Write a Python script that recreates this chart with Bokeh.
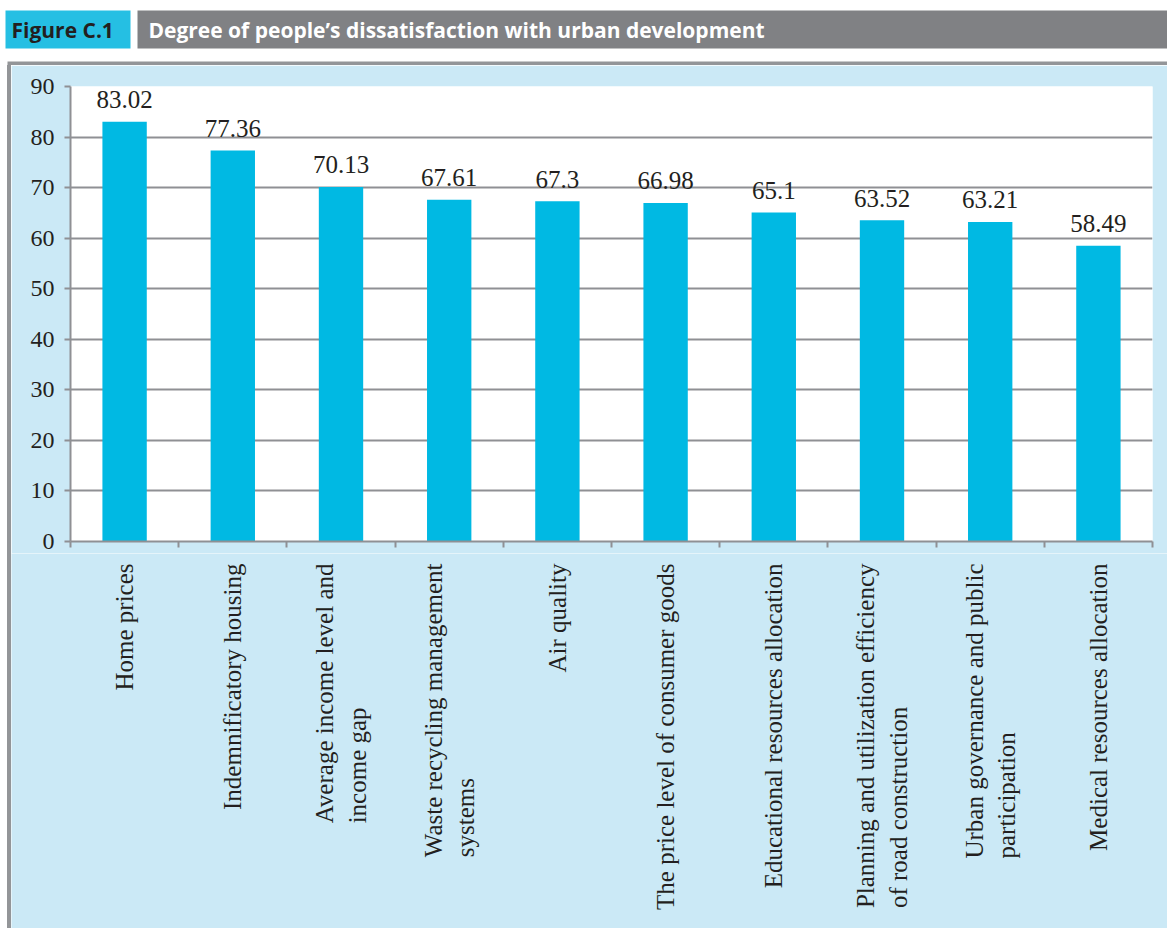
import math
from bokeh.plotting import figure
from bokeh.models import Range1d, LinearAxis, FixedTicker, ColumnDataSource
from bokeh.layouts import column
from bokeh.embed import file_html
from bokeh.resources import INLINE
from bokeh.core.properties import value

# ---------------- data ----------------
categories = [
    "Home prices",
    "Indemnificatory housing",
    "Average income level and\nincome gap",
    "Waste recycling management\nsystems",
    "Air quality",
    "The price level of consumer goods",
    "Educational resources allocation",
    "Planning and utilization efficiency\nof road construction",
    "Urban governance and public\nparticipation",
    "Medical resources allocation",
]
values = [83.02, 77.36, 70.13, 67.61, 67.3, 66.98, 65.1, 63.52, 63.21, 58.49]
value_labels = ["83.02", "77.36", "70.13", "67.61", "67.3", "66.98", "65.1",
                "63.52", "63.21", "58.49"]
y_ticks = [0, 10, 20, 30, 40, 50, 60, 70, 80, 90]
figure_tag = "Figure C.1"
title_text = "Degree of people\u2019s dissatisfaction with urban development"

# ---------------- style ----------------
PAGE_W, PAGE_H = 1167, 928
PANEL = "#CBE9F6"
BAR = "#00B9E3"
GRID = "#8F9094"
EDGE = "#939598"
TXT = "#231F20"
SERIF = "Liberation Serif"
n = len(categories)

PANEL_X = 11           # panel content starts after a 4px grey left edge at x=7
HEAD_H = 65
FL, FT, FR, FB = 70, 86, 1152, 541      # plot frame in page pixels
AX_H = 12                                # separator-tick axis height
BODY_W = PAGE_W - PANEL_X


def no_align(fig):
    if "frame_align" in fig.properties():
        fig.frame_align = False


# ---------------- header ----------------
head = figure(width=PAGE_W, height=HEAD_H, x_range=Range1d(0, PAGE_W),
              y_range=Range1d(HEAD_H, 0), output_backend="svg",
              toolbar_location=None, min_border=0,
              x_axis_location=None, y_axis_location=None,
              background_fill_color="white", border_fill_color="white",
              outline_line_color=None)
no_align(head)
head.grid.visible = False
head.quad(left=[5], right=[130], top=[10], bottom=[48], fill_color="#25BFE3", line_color=None)
head.quad(left=[137], right=[PAGE_W + 5], top=[10], bottom=[48], fill_color="#808184", line_color=None)
head.quad(left=[7], right=[PAGE_W + 5], top=[61], bottom=[HEAD_H + 1], fill_color=EDGE, line_color=None)
head.text(x=[11], y=[29], text=[figure_tag], text_font=value("Open Sans"),
          text_font_style="bold", text_font_size="21px", text_color=TXT,
          text_baseline="middle", text_align="left")
head.text(x=[148], y=[29], text=[title_text], text_font=value("Open Sans"),
          text_font_style="bold", text_font_size="21px", text_color="white",
          text_baseline="middle", text_align="left")

# ---------------- main chart ----------------
centers = [i + 0.5 for i in range(n)]          # category slots on a 0..n scale
src = ColumnDataSource(dict(x=centers, val=values, lab=value_labels, cat=categories))

p = figure(width=BODY_W, height=FB + AX_H - HEAD_H, x_range=Range1d(0, n),
           y_range=Range1d(0, 90),
           output_backend="svg", toolbar_location=None,
           x_axis_location=None, y_axis_location="left",
           min_border_left=FL - PANEL_X, min_border_right=PAGE_W - FR,
           min_border_top=FT - HEAD_H, min_border_bottom=AX_H,
           background_fill_color="white", border_fill_color=PANEL,
           outline_line_color=None)
no_align(p)

p.vbar(x="x", top="val", width=0.41, source=src, fill_color=BAR, line_color=None)
p.text(x="x", y="val", text="lab", source=src, text_align="center",
       text_baseline="alphabetic", y_offset=-22, text_font=value(SERIF),
       text_font_size="25px", text_color=TXT)

ya = p.yaxis[0]
ya.ticker = FixedTicker(ticks=y_ticks)
ya.axis_line_color = GRID
ya.axis_line_width = 2
ya.major_tick_line_color = GRID
ya.major_tick_line_width = 2
ya.major_tick_out = 6
ya.major_tick_in = 0
ya.minor_tick_line_color = None
ya.major_label_standoff = 10
ya.major_label_text_font = SERIF
ya.major_label_text_font_size = "24px"
ya.major_label_text_color = TXT

p.ygrid.ticker = FixedTicker(ticks=y_ticks)
p.ygrid.grid_line_color = GRID
p.ygrid.grid_line_width = 2
p.xgrid.visible = False

# x axis: separator ticks between category slots
sep_ticks = list(range(n + 1))
sep_axis = LinearAxis(ticker=FixedTicker(ticks=sep_ticks),
                      major_label_overrides={t: "" for t in sep_ticks},
                      axis_line_color=GRID, axis_line_width=2,
                      major_tick_line_color=GRID, major_tick_line_width=2,
                      major_tick_out=6, major_tick_in=0,
                      minor_tick_line_color=None, major_label_standoff=0,
                      major_label_text_font_size="1px")
p.add_layout(sep_axis, "below")

# ---------------- category labels (rotated, lines left-aligned) ----------------
# label strip spans the full panel width; its x scale matches the chart's slots
slot_px = (FR - FL) / n
lab_xr = Range1d(-(FL - PANEL_X) / slot_px, n + (PAGE_W - FR) / slot_px)
LAB_TOP = FB + AX_H
labfig = figure(width=BODY_W, height=PAGE_H - LAB_TOP, x_range=lab_xr,
                y_range=Range1d(PAGE_H, LAB_TOP), output_backend="svg",
                toolbar_location=None, x_axis_location=None, y_axis_location=None,
                min_border=0,
                background_fill_color=PANEL, border_fill_color=PANEL,
                outline_line_color=None)
no_align(labfig)
labfig.grid.visible = False
labfig.text(x="x", y=FB + 22, text="cat", source=src, angle=math.pi / 2,
            anchor="center_right", text_align="left",
            text_font=value(SERIF), text_font_size="25px", text_color=TXT,
            text_line_height=1.2)

body = column(p, labfig, spacing=0,
              styles={"margin-left": "7px", "border-left": "4px solid " + EDGE})
layout = column(head, body, spacing=0)
open("out.html", "w").write(file_html(layout, INLINE))
